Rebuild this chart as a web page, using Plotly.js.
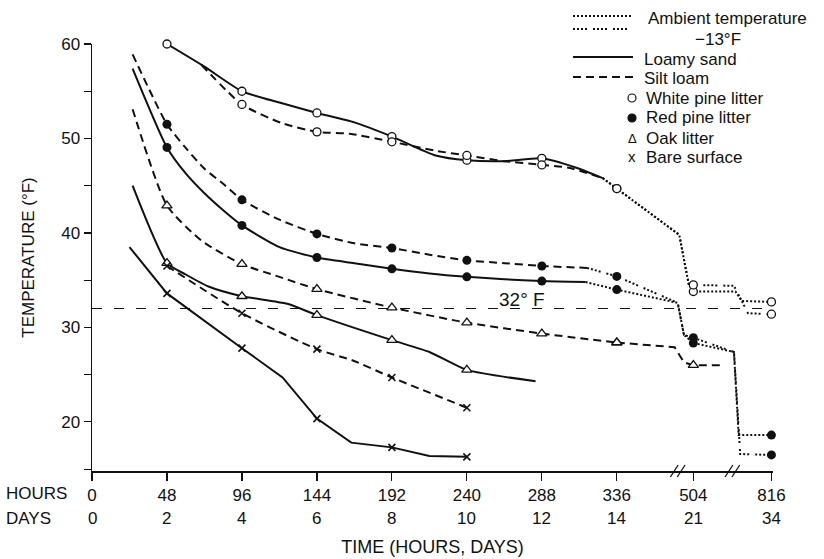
<!DOCTYPE html>
<html>
<head>
<meta charset="utf-8">
<script src="https://cdn.plot.ly/plotly-3.0.1.min.js"></script>
<style>
  html, body { margin: 0; padding: 0; background: #fff; }
  #chart { width: 824px; height: 559px; }
</style>
</head>
<body>
<div id="chart"></div>
<script>
// ---- Axis labelling -------------------------------------------------------
// The time axis is broken after 14 days: 504 h and 816 h sit at compressed
// positions on the plotted scale.
const POS_504 = 385;
const POS_816 = 435;
const hourTickPos = [0, 48, 96, 144, 192, 240, 288, 336, POS_504, POS_816];
const hourTickText = ['0', '48', '96', '144', '192', '240', '288', '336', '504', '816'];
const dayTickText = ['0', '2', '4', '6', '8', '10', '12', '14', '21', '34'];
const axisBreaks = [375, 410];
const freezingF = 32;

// Times at which temperatures were recorded (plotted positions, hours)
const measuredTimes = [48, 96, 144, 192, 240, 288, 336, POS_504, POS_816];

// ---- White pine litter ----------------------------------------------------
const wpSandT = [48, 72, 96, 120, 144, 168, 192, 220, 240, 264, 288, 310, 327];
const wpSandV = [60.0, 57.6, 55.0, 53.8, 52.7, 51.7, 50.2, 48.2, 47.7, 47.6, 47.9, 46.9, 45.8];
const wpSandColdT = [327, 336, 376, 382, POS_504, 412, 416, POS_816];
const wpSandColdV = [45.8, 44.7, 39.8, 34.6, 33.8, 33.8, 32.8, 32.7];

const wpLoamT = [70, 96, 122, 144, 165, 192, 220, 240, 264, 288, 305, 327];
const wpLoamV = [57.8, 53.6, 51.6, 50.7, 50.5, 49.65, 48.7, 48.2, 47.6, 47.2, 46.9, 45.8];
const wpLoamColdT = [327, 336, 376, 382, POS_504, 411, 420, POS_816];
const wpLoamColdV = [45.8, 44.7, 39.8, 34.6, 34.5, 34.4, 31.5, 31.4];

// ---- Red pine litter ------------------------------------------------------
const rpSandT = [26, 48, 60, 72, 84, 96, 120, 144, 168, 192, 216, 240, 264, 288, 316];
const rpSandV = [57.4, 49.05, 46.3, 44.2, 42.4, 40.8, 38.5, 37.4, 36.8, 36.2, 35.7, 35.35, 35.1, 34.9, 34.8];
const rpSandColdT = [316, 336, 375, 379, POS_504, 411, 414, POS_816];
const rpSandColdV = [34.8, 34.0, 32.6, 29.2, 28.35, 27.4, 18.6, 18.6];

const rpLoamT = [26, 48, 60, 72, 84, 96, 120, 144, 168, 192, 216, 240, 264, 288, 317];
const rpLoamV = [58.9, 51.5, 49.0, 46.8, 45.2, 43.5, 41.4, 39.9, 38.9, 38.4, 37.7, 37.1, 36.8, 36.5, 36.3];
const rpLoamColdT = [317, 336, 375, 379, POS_504, 411, 415, POS_816];
const rpLoamColdV = [36.3, 35.4, 32.6, 29.2, 28.9, 27.4, 16.6, 16.5];

// ---- Oak litter -----------------------------------------------------------
const oakSandT = [26, 48, 60, 75, 96, 125, 144, 192, 216, 240, 284];
const oakSandV = [45.0, 36.8, 35.6, 34.3, 33.3, 32.5, 31.3, 28.65, 27.4, 25.5, 24.3];

const oakLoamT = [26, 48, 70, 96, 120, 144, 192, 240, 288, 336];
const oakLoamV = [53.1, 42.9, 39.2, 36.7, 35.35, 34.05, 32.1, 30.5, 29.35, 28.4];
const oakLoamLateT = [336, 373, 379, POS_504, 403];
const oakLoamLateV = [28.4, 27.9, 26.3, 26.0, 26.0];

// ---- Bare surface ---------------------------------------------------------
const bareSandT = [24, 48, 96, 122, 144, 166, 192, 216, 240];
const bareSandV = [38.5, 33.6, 27.8, 24.7, 20.35, 17.8, 17.3, 16.4, 16.3];

const bareLoamT = [48, 96, 144, 167, 192, 240];
const bareLoamV = [36.5, 31.5, 27.7, 26.5, 24.7, 21.5];

// ---- Styles ---------------------------------------------------------------
const FONT = 'Liberation Sans, Arial, sans-serif';
const INK = '#111';
const SOLID = 'solid';
const DASHED = '8px,5px';
const DOT_SAND = '2px,2px';
const DOT_SILT = '2px,2px,2px,2px,2px,2px,2px,6px';
const FREEZE_DASH = '10px,12px';

const OPEN_CIRCLE = { symbol: 'circle', size: 8, color: '#fff', line: { color: INK, width: 1.3 } };
const FILLED_CIRCLE = { symbol: 'circle', size: 9, color: INK, line: { color: INK, width: 0 } };
const OPEN_TRIANGLE = { symbol: 'triangle-up', size: 9, color: '#fff', line: { color: INK, width: 1.3 } };
const CROSS = { symbol: 'x-thin-open', size: 7, color: INK, line: { color: INK, width: 1.6 } };

// Smooth-drawn curves use splines; the cold-spell steps and the bare
// loamy-sand curve keep their corners.
const series = [
  { t: wpSandT, v: wpSandV, dash: SOLID, marker: OPEN_CIRCLE, smooth: true },
  { t: wpSandColdT, v: wpSandColdV, dash: DOT_SAND, marker: OPEN_CIRCLE, smooth: false },
  { t: wpLoamT, v: wpLoamV, dash: DASHED, marker: OPEN_CIRCLE, smooth: true },
  { t: wpLoamColdT, v: wpLoamColdV, dash: DOT_SILT, marker: OPEN_CIRCLE, smooth: false },
  { t: rpSandT, v: rpSandV, dash: SOLID, marker: FILLED_CIRCLE, smooth: true },
  { t: rpSandColdT, v: rpSandColdV, dash: DOT_SAND, marker: FILLED_CIRCLE, smooth: false },
  { t: rpLoamT, v: rpLoamV, dash: DASHED, marker: FILLED_CIRCLE, smooth: true },
  { t: rpLoamColdT, v: rpLoamColdV, dash: DOT_SILT, marker: FILLED_CIRCLE, smooth: false },
  { t: oakSandT, v: oakSandV, dash: SOLID, marker: OPEN_TRIANGLE, smooth: true },
  { t: oakLoamT, v: oakLoamV, dash: DASHED, marker: OPEN_TRIANGLE, smooth: true },
  { t: oakLoamLateT, v: oakLoamLateV, dash: DASHED, marker: OPEN_TRIANGLE, smooth: false },
  { t: bareSandT, v: bareSandV, dash: SOLID, marker: CROSS, smooth: false },
  { t: bareLoamT, v: bareLoamV, dash: DASHED, marker: CROSS, smooth: true }
];

function measuredOnly(t, v) {
  const xs = [], ys = [];
  t.forEach((x, i) => { if (measuredTimes.includes(x)) { xs.push(x); ys.push(v[i]); } });
  return { xs, ys };
}

const lineTraces = series.map(s => ({
  type: 'scatter', mode: 'lines', x: s.t, y: s.v,
  line: { color: INK, width: 2, dash: s.dash, shape: s.smooth ? 'spline' : 'linear', smoothing: 0.6 },
  hoverinfo: 'skip', showlegend: false
}));
const markerTraces = series.map(s => {
  const m = measuredOnly(s.t, s.v);
  return {
    type: 'scatter', mode: 'markers', x: m.xs, y: m.ys,
    marker: s.marker, cliponaxis: false, hoverinfo: 'skip', showlegend: false
  };
});

// ---- Layout geometry (pixels of the 824 x 559 figure) ---------------------
const W = 824, H = 559;
const M = { l: 92, r: 51, t: 44, b: 88 };
const plotW = W - M.l - M.r, plotH = H - M.t - M.b;
const fx = p => (p - M.l) / plotW;          // figure px -> paper x
const fy = p => (H - M.b - p) / plotH;      // figure px -> paper y

const shapes = [];
const annotations = [];

// Freezing-point reference line
shapes.push({ type: 'line', xref: 'paper', yref: 'y', x0: 0, x1: 1, y0: freezingF, y1: freezingF,
  line: { color: INK, width: 1, dash: FREEZE_DASH }, layer: 'below' });
annotations.push({ xref: 'x', yref: 'y', x: 275, y: freezingF, text: freezingF + '° F',
  showarrow: false, xanchor: 'center', yanchor: 'bottom', yshift: -3,
  font: { family: FONT, size: 19, color: INK } });

// Axis break marks
axisBreaks.forEach(b => {
  [-2.2, 2.2].forEach(off => {
    shapes.push({ type: 'line', xref: 'x', yref: 'paper', ysizemode: 'pixel', yanchor: 0,
      x0: b + off - 2.5, x1: b + off + 2.5, y0: -6, y1: 6, line: { color: INK, width: 1.3 } });
  });
});

// Day labels beneath the hour labels
hourTickPos.forEach((x, i) => {
  annotations.push({ xref: 'x', yref: 'paper', x: x, y: fy(518), text: dayTickText[i],
    showarrow: false, xanchor: 'center', yanchor: 'middle',
    font: { family: FONT, size: 17, color: INK } });
});
annotations.push({ xref: 'paper', yref: 'paper', x: fx(4), y: fy(493), text: 'HOURS',
  showarrow: false, xanchor: 'left', yanchor: 'middle', font: { family: FONT, size: 17, color: INK } });
annotations.push({ xref: 'paper', yref: 'paper', x: fx(4), y: fy(518), text: 'DAYS',
  showarrow: false, xanchor: 'left', yanchor: 'middle', font: { family: FONT, size: 17, color: INK } });

// Key
const keyFont = { family: FONT, size: 17, color: INK };
const keyLines = [
  { dash: DOT_SAND, y: 16 },
  { dash: DOT_SILT, y: 29 },
  { dash: SOLID, y: 57 },
  { dash: DASHED, y: 77 }
];
keyLines.forEach(k => shapes.push({ type: 'line', xref: 'paper', yref: 'paper',
  x0: fx(573), x1: fx(633), y0: fy(k.y), y1: fy(k.y), line: { color: INK, width: 2, dash: k.dash } }));
const keyTexts = [
  { text: 'Ambient temperature', x: 646, y: 19, anchor: 'left' },
  { text: '−13°F', x: 718, y: 40, anchor: 'center' },
  { text: 'Loamy sand', x: 642, y: 59, anchor: 'left' },
  { text: 'Silt loam', x: 642, y: 78, anchor: 'left' },
  { text: 'White pine litter', x: 644, y: 98, anchor: 'left' },
  { text: 'Red pine litter', x: 644, y: 118, anchor: 'left' },
  { text: 'Oak litter', x: 644, y: 138, anchor: 'left' },
  { text: 'Bare surface', x: 644, y: 157, anchor: 'left' }
];
keyTexts.forEach(k => annotations.push({ xref: 'paper', yref: 'paper', x: fx(k.x), y: fy(k.y),
  text: k.text, showarrow: false, xanchor: k.anchor, yanchor: 'middle', font: keyFont }));
// key symbols
[{ y: 98, fill: '#fff' }, { y: 118, fill: INK }].forEach(c => shapes.push({
  type: 'circle', xref: 'paper', yref: 'paper', xsizemode: 'pixel', ysizemode: 'pixel',
  xanchor: fx(632), yanchor: fy(c.y), x0: -4, x1: 4, y0: -4, y1: 4,
  fillcolor: c.fill, line: { color: INK, width: 1.2 } }));
annotations.push({ xref: 'paper', yref: 'paper', x: fx(632), y: fy(138), text: 'Δ', showarrow: false,
  xanchor: 'center', yanchor: 'middle', font: { family: FONT, size: 13, color: INK } });
annotations.push({ xref: 'paper', yref: 'paper', x: fx(632), y: fy(156), text: 'x', showarrow: false,
  xanchor: 'center', yanchor: 'middle', font: { family: FONT, size: 15, color: INK } });

const layout = {
  width: W, height: H, margin: M,
  paper_bgcolor: '#fff', plot_bgcolor: '#fff',
  showlegend: false,
  font: { family: FONT, size: 17, color: INK },
  xaxis: {
    range: [0, 436], tickmode: 'array', tickvals: hourTickPos, ticktext: hourTickText,
    ticks: 'outside', ticklen: 8, tickwidth: 1.2, tickcolor: INK,
    showline: true, linecolor: INK, linewidth: 1.5, showgrid: false, zeroline: false,
    tickfont: { family: FONT, size: 17, color: INK },
    title: { text: 'TIME (HOURS, DAYS)', standoff: 36, font: { family: FONT, size: 18, color: INK } },
    fixedrange: true
  },
  yaxis: {
    range: [14.8, 60], tick0: 0, dtick: 10,
    ticks: 'outside', ticklen: 7, tickwidth: 1.2, tickcolor: INK,
    minor: { dtick: 5, ticks: 'outside', ticklen: 7, tickwidth: 1.2, tickcolor: INK },
    showline: true, linecolor: INK, linewidth: 1.5, showgrid: false, zeroline: false,
    tickfont: { family: FONT, size: 17, color: INK },
    title: { text: 'TEMPERATURE (°F)', standoff: 22, font: { family: FONT, size: 17, color: INK } },
    fixedrange: true
  },
  shapes: shapes,
  annotations: annotations
};

Plotly.newPlot('chart', lineTraces.concat(markerTraces), layout, { displayModeBar: false, staticPlot: true });
</script>
</body>
</html>
